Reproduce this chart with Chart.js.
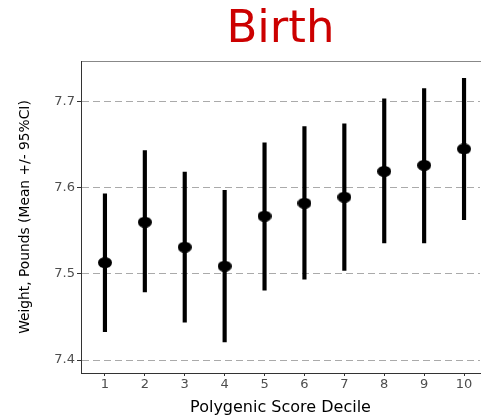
<!DOCTYPE html>
<html>
<head>
<meta charset="utf-8">
<script src="https://cdn.jsdelivr.net/npm/chart.js@4.4.1/dist/chart.umd.min.js"></script>
<style>
  html, body { margin: 0; padding: 0; background: #fff; }
  #wrap { width: 485px; height: 417px; }
</style>
</head>
<body>
<div id="wrap"><canvas id="birth"></canvas></div>
<script>
// decile means with 95% CI
const deciles = [1, 2, 3, 4, 5, 6, 7, 8, 9, 10];
const meanWeight = [7.513, 7.560, 7.531, 7.509, 7.567, 7.582, 7.589, 7.619, 7.626, 7.645];
const ciLower = [7.433, 7.479, 7.444, 7.421, 7.481, 7.494, 7.504, 7.536, 7.536, 7.563];
const ciUpper = [7.593, 7.643, 7.618, 7.597, 7.652, 7.671, 7.674, 7.703, 7.715, 7.727];
const yTicks = [7.4, 7.5, 7.6, 7.7];

const fontFam = "'DejaVu Sans', sans-serif";

// slightly wide dot for the means
const dot = document.createElement('canvas');
dot.width = 14;
dot.height = 11;
const dctx = dot.getContext('2d');
dctx.fillStyle = '#000';
dctx.beginPath();
dctx.ellipse(7, 5.5, 7, 5.5, 0, 0, Math.PI * 2);
dctx.fill();

// keep the panel running right up to the canvas edge
function noSidePad(s) {
    s.paddingLeft = 0;
    s.paddingRight = 0;
}

const ctx = document.getElementById('birth');

new Chart(ctx, {
    type: 'bar',
    data: {
        datasets: [{
            type: 'scatter',
            label: 'mean',
            data: deciles.map((d, i) => ({ x: d, y: meanWeight[i] })),
            pointStyle: dot,
            order: 0
        }, {
            type: 'bar',
            label: '95% CI',
            data: deciles.map((d, i) => ({ x: d, y: [ciLower[i], ciUpper[i]] })),
            backgroundColor: '#000',
            barThickness: 3.5,
            order: 1
        }]
    },
    options: {
        responsive: true,
        maintainAspectRatio: false,
        animation: false,
        layout: { padding: { left: 0, right: 0, top: 3, bottom: 0 } },
        plugins: {
            legend: { display: false },
            tooltip: { enabled: false },
            title: {
                display: true,
                text: 'Birth',
                color: '#CC0000',
                fullSize: false,
                font: { family: fontFam, size: 45, weight: 'normal', lineHeight: 1.2 },
                padding: { top: 0, bottom: 4 }
            }
        },
        scales: {
            x: {
                type: 'linear',
                offset: false,
                min: 0.4,
                max: 10.4,
                afterBuildTicks: s => { s.ticks = deciles.map(v => ({ value: v })); },
                afterFit: s => { s.height = 44; noSidePad(s); },
                grid: { offset: false, drawOnChartArea: false, tickLength: 3, tickColor: '#333' },
                border: { display: true, color: '#333', width: 1 },
                ticks: { color: '#4D4D4D', font: { family: fontFam, size: 13 }, padding: 1, maxRotation: 0 },
                title: {
                    display: true,
                    text: 'Polygenic Score Decile',
                    color: '#000',
                    font: { family: fontFam, size: 16 },
                    padding: { top: 3, bottom: 0 }
                }
            },
            top: {
                type: 'linear',
                position: 'top',
                offset: false,
                min: 0.4,
                max: 10.4,
                afterFit: s => { s.height = 0; noSidePad(s); },
                ticks: { display: false },
                grid: { display: false },
                border: { display: true, color: '#888', width: 1 }
            },
            y: {
                min: 7.385,
                max: 7.747,
                afterBuildTicks: s => { s.ticks = yTicks.map(v => ({ value: v })); },
                afterFit: s => { s.width = 81; },
                grid: { color: '#AAAAAA', lineWidth: 1, tickLength: 4, tickColor: '#333' },
                border: { display: true, color: '#333', width: 1, dash: [7, 4] },
                ticks: {
                    color: '#4D4D4D',
                    font: { family: fontFam, size: 13 },
                    padding: 2,
                    callback: v => v.toFixed(1)
                },
                title: {
                    display: true,
                    text: 'Weight, Pounds (Mean +/- 95%CI)',
                    color: '#000',
                    font: { family: fontFam, size: 13.8 },
                    padding: { top: 17, bottom: 0 }
                }
            }
        }
    }
});
</script>
</body>
</html>
